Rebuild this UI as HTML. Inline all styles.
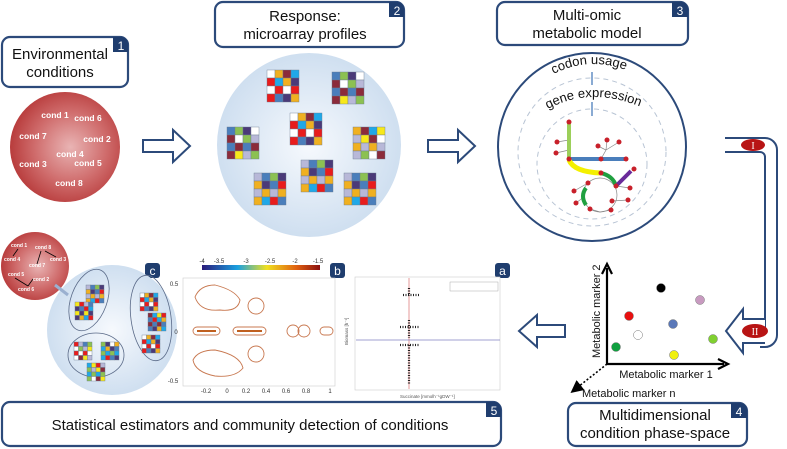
<!DOCTYPE html>
<html><head><meta charset="utf-8"><style>
body{margin:0;background:#fff}
svg{display:block;font-family:"Liberation Sans",sans-serif}
</style></head><body>
<svg id="s" width="787" height="449" viewBox="0 0 787 449" xmlns="http://www.w3.org/2000/svg">
<defs>
<radialGradient id="rg" cx="0.55" cy="0.5" r="0.55"><stop offset="0" stop-color="#e9b4b4"/><stop offset="0.6" stop-color="#cf6b6b"/><stop offset="1" stop-color="#b83c3c"/></radialGradient>
<radialGradient id="bg" cx="0.5" cy="0.5" r="0.5"><stop offset="0" stop-color="#f6f9fd"/><stop offset="1" stop-color="#cfdff0"/></radialGradient>
<linearGradient id="cb" x1="0" x2="1"><stop offset="0" stop-color="#2a1a7a"/><stop offset="0.3" stop-color="#1aa0e0"/><stop offset="0.55" stop-color="#f0e020"/><stop offset="0.8" stop-color="#e06010"/><stop offset="1" stop-color="#8a1010"/></linearGradient>
<marker id="ah" markerWidth="8" markerHeight="8" refX="6" refY="4" orient="auto"><path d="M0,0 L8,4 L0,8 z" fill="#000"/></marker>
</defs>
<g fill="none" stroke="#2c4a7a" stroke-width="2.2">
<rect x="2" y="37" width="126" height="50" rx="8" fill="#fff"/>
<rect x="215" y="2" width="189" height="45" rx="8" fill="#fff"/>
<rect x="497" y="2" width="191" height="43" rx="8" fill="#fff"/>
<rect x="2" y="402" width="499" height="44" rx="8" fill="#fff"/>
<rect x="568" y="403" width="179" height="43" rx="8" fill="#fff"/>
</g>
<g fill="#1f3d6e">
<path d="M113,37 h8 a7,7 0 0 1 7,7 v8 h-15 z"/>
<path d="M389,2 h8 a7,7 0 0 1 7,7 v8 h-15 z"/>
<path d="M672,2 h9 a7,7 0 0 1 7,7 v8 h-16 z"/>
<path d="M486,402 h8 a7,7 0 0 1 7,7 v8 h-15 z"/>
<path d="M731,403 h9 a7,7 0 0 1 7,7 v8 h-16 z"/>
<rect x="145" y="263" width="15" height="15" rx="3"/>
<rect x="330" y="263" width="15" height="15" rx="3"/>
<rect x="495" y="263" width="15" height="15" rx="3"/>
</g>
<g fill="#fff" font-size="12" text-anchor="middle">
<text x="121" y="50">1</text><text x="397" y="15">2</text><text x="680" y="15">3</text>
<text x="494" y="415">5</text><text x="739" y="416">4</text>
<text x="152.5" y="275">c</text><text x="337.5" y="275">b</text><text x="502.5" y="275">a</text>
</g>
<g font-size="15" text-anchor="middle" fill="#111">
<text x="60" y="59">Environmental</text><text x="60" y="77">conditions</text>
<text x="305" y="21">Response:</text><text x="305" y="39">microarray profiles</text>
<text x="587" y="20">Multi-omic</text><text x="587" y="38">metabolic model</text>
<text x="250" y="430">Statistical estimators and community detection of conditions</text>
<text x="655" y="420">Multidimensional</text><text x="655" y="438">condition phase-space</text>
</g>
<circle cx="65" cy="147" r="55" fill="url(#rg)"/>
<g fill="#fff" font-size="8.5" font-weight="bold" text-anchor="middle">
<text x="55" y="118">cond 1</text><text x="88" y="121">cond 6</text><text x="33" y="139">cond 7</text><text x="97" y="142">cond 2</text>
<text x="70" y="157">cond 4</text><text x="33" y="167">cond 3</text><text x="88" y="166">cond 5</text><text x="69" y="186">cond 8</text>
</g>
<g fill="#fff" stroke="#2c4a7a" stroke-width="2">
<path d="M143,140 h30 v-10 l17,16 l-17,16 v-10 h-30 z"/>
<path d="M428,140 h30 v-10 l17,16 l-17,16 v-10 h-30 z"/>
<path d="M565,325 h-28 v-10 l-18,16 l18,16 v-10 h28 z"/>
</g>
<circle cx="309" cy="145" r="92" fill="url(#bg)"/>
<circle cx="592" cy="147" r="94" fill="#fff" stroke="#2c4a7a" stroke-width="2"/>
<circle cx="592" cy="152" r="74" fill="none" stroke="#b8c4d4" stroke-dasharray="5,4"/>
<circle cx="592" cy="164" r="55" fill="none" stroke="#b8c4d4" stroke-dasharray="5,4"/>
<path id="p1" d="M550,76 Q592,52 640,76" fill="none"/>
<path id="p2" d="M546,110 Q592,84 648,110" fill="none"/>
<text font-size="13" fill="#111"><textPath href="#p1" startOffset="4">codon usage</textPath></text>
<text font-size="13" fill="#111"><textPath href="#p2" startOffset="2">gene expression</textPath></text>
<g stroke="#4a7ebb" stroke-width="1.3"><line x1="592" y1="72" x2="592" y2="85"/><line x1="592" y1="102" x2="592" y2="116"/></g>
<g stroke="#888" stroke-width="0.7" fill="none">
<circle cx="600" cy="195" r="17"/>
<line x1="557" y1="142" x2="569" y2="140"/><line x1="556" y1="153" x2="569" y2="150"/>
<path d="M601,159 L606,150 L598,146 M606,150 L607,140 M606,150 L619,142"/>
<path d="M588,183 L574,191 M585,196 L576,203 M600,212 L590,209 M600,212 L611,210 M612,201 L628,200 M616,186 L630,188"/>
</g>
<path d="M569,122 V158" stroke="#9ccf5a" stroke-width="4"/>
<path d="M571,159 H626" stroke="#4a7ebb" stroke-width="4"/>
<path d="M569,160 Q574,172 601,173" stroke="#f4f000" stroke-width="5" fill="none"/>
<path d="M601,173 Q613,176 616,186" stroke="#20a040" stroke-width="4" fill="none"/>
<path d="M586,188 Q580,196 586,205" stroke="#20a040" stroke-width="4" fill="none"/>
<path d="M616,186 L631,171" stroke="#6a2a9a" stroke-width="4"/>
<g fill="#c8202a">
<circle cx="569" cy="122" r="2.5"/><circle cx="569" cy="159" r="2.5"/><circle cx="601" cy="159" r="2.5"/><circle cx="626" cy="159" r="2.5"/>
<circle cx="557" cy="142" r="2.5"/><circle cx="556" cy="153" r="2.5"/><circle cx="598" cy="146" r="2.5"/><circle cx="607" cy="140" r="2.5"/><circle cx="619" cy="142" r="2.5"/>
<circle cx="601" cy="173" r="2.5"/><circle cx="616" cy="186" r="2.5"/><circle cx="634" cy="169" r="2.5"/>
<circle cx="588" cy="183" r="2.5"/><circle cx="574" cy="191" r="2.5"/><circle cx="576" cy="203" r="2.5"/><circle cx="590" cy="209" r="2.5"/>
<circle cx="612" cy="201" r="2.5"/><circle cx="611" cy="210" r="2.5"/><circle cx="630" cy="188" r="2.5"/><circle cx="628" cy="200" r="2.5"/>
</g>
<path d="M725,138 H765 a12,12 0 0 1 12,12 V335 a12,12 0 0 1 -12,12 H760 M725,152 H760 a5,5 0 0 1 5,5 V332" fill="none" stroke="#2c4a7a" stroke-width="2"/>
<path d="M765,319 H743 v-10 l-17,22 l17,22 v-10 h22" fill="#fff" stroke="#2c4a7a" stroke-width="2"/>
<ellipse cx="753" cy="145" rx="12" ry="6" fill="#b81414"/><text x="753" y="149" fill="#fff" font-size="10" text-anchor="middle" font-family="Liberation Serif">I</text>
<ellipse cx="755" cy="331" rx="13" ry="7" fill="#b81414"/><text x="755" y="335" fill="#fff" font-size="10" text-anchor="middle" font-family="Liberation Serif">II</text>
<g stroke="#000" stroke-width="2.2" fill="none">
<path d="M607,364 V268 M602,274 L607,264 L612,274"/><path d="M607,364 H724 M718,359 L728,364 L718,369"/>
</g>
<line x1="607" y1="364" x2="573" y2="391" stroke="#000" stroke-width="1.6" stroke-dasharray="2,2" marker-end="url(#ah)"/>
<text x="666" y="378" font-size="11" text-anchor="middle" fill="#111">Metabolic marker 1</text>
<text x="582" y="397" font-size="11" fill="#111">Metabolic marker n</text>
<text transform="translate(600,358) rotate(-90)" font-size="11" fill="#111">Metabolic marker 2</text>
<g stroke="#777" stroke-width="0.5">
<circle cx="661" cy="288" r="4.5" fill="#000"/><circle cx="700" cy="300" r="4.5" fill="#c89ac0"/><circle cx="629" cy="316" r="4.5" fill="#e81010"/>
<circle cx="673" cy="324" r="4.5" fill="#5a78b8"/><circle cx="638" cy="335" r="4.5" fill="#fff"/><circle cx="616" cy="347" r="4.5" fill="#10a040"/>
<circle cx="674" cy="355" r="4.5" fill="#f0f010"/><circle cx="713" cy="339" r="4.5" fill="#80d030"/>
</g>
<circle cx="112" cy="330" r="65" fill="url(#bg)"/>
<g fill="none" stroke="#5a6a88" stroke-width="0.8">
<ellipse cx="89" cy="300" rx="18" ry="32" transform="rotate(20 89 300)"/>
<ellipse cx="96" cy="355" rx="28" ry="22"/>
<ellipse cx="151" cy="318" rx="20" ry="43" transform="rotate(-8 151 318)"/>
</g>
<circle cx="35" cy="266" r="34" fill="url(#rg)"/>
<g fill="#fff" font-size="5" font-weight="bold">
<text x="11" y="247">cond 1</text><text x="35" y="249">cond 8</text><text x="4" y="261">cond 4</text><text x="29" y="267">cond 7</text>
<text x="50" y="261">cond 3</text><text x="8" y="276">cond 5</text><text x="33" y="281">cond 2</text><text x="18" y="291">cond 6</text>
</g>
<g stroke="#000" stroke-width="0.8"><line x1="13" y1="256" x2="18" y2="249"/><line x1="37" y1="264" x2="41" y2="251"/><line x1="45" y1="251" x2="56" y2="257"/><line x1="15" y1="278" x2="28" y2="286"/><line x1="28" y1="286" x2="33" y2="279"/></g>
<line x1="55" y1="285" x2="68" y2="295" stroke="#9ab0d0" stroke-width="3"/>
<rect x="183" y="278" width="152" height="108" fill="#fff" stroke="#ccc" stroke-width="0.6"/>
<rect x="202" y="265" width="118" height="5" fill="url(#cb)"/>
<g font-size="6" fill="#333" text-anchor="middle"><text x="202" y="263">-4</text><text x="219" y="263">-3.5</text><text x="246" y="263">-3</text><text x="270" y="263">-2.5</text><text x="295" y="263">-2</text><text x="318" y="263">-1.5</text>
<text x="206" y="393">-0.2</text><text x="227" y="393">0</text><text x="246" y="393">0.2</text><text x="266" y="393">0.4</text><text x="286" y="393">0.6</text><text x="306" y="393">0.8</text><text x="330" y="393">1</text>
<text x="174" y="286">0.5</text><text x="176" y="334">0</text><text x="173" y="383">-0.5</text></g>
<g fill="none" stroke="#c87850" stroke-width="0.9">
<path d="M195,297 Q200,285 215,285 Q235,290 240,300 Q238,312 220,310 Q200,312 195,297z"/>
<path d="M193,360 Q198,350 215,350 Q240,355 243,368 Q235,378 215,376 Q195,372 193,360z"/>
<rect x="193" y="327" width="27" height="8" rx="4"/><rect x="233" y="327" width="33" height="8" rx="4"/>
<circle cx="256" cy="306" r="8"/><circle cx="256" cy="354" r="8"/><circle cx="293" cy="331" r="6"/><circle cx="304" cy="331" r="6"/><rect x="320" y="327" width="13" height="8" rx="4"/>
</g>
<g stroke="#c06020" stroke-width="2"><line x1="197" y1="331" x2="216" y2="331"/><line x1="237" y1="331" x2="262" y2="331"/></g>
<rect x="355" y="277" width="145" height="113" fill="#fff" stroke="#ccc" stroke-width="0.6"/>
<line x1="409" y1="278" x2="409" y2="389" stroke="#e08080" stroke-width="0.8"/>
<line x1="356" y1="340" x2="500" y2="340" stroke="#8080c0" stroke-width="0.8"/>
<rect x="450" y="282" width="48" height="9" fill="#fff" stroke="#999" stroke-width="0.4"/>
<g stroke="#222" stroke-width="2.2" stroke-dasharray="1,1.5"><line x1="409" y1="288" x2="409" y2="296"/><line x1="409" y1="320" x2="409" y2="338"/><line x1="409" y1="345" x2="409" y2="385"/><line x1="400" y1="327" x2="420" y2="327"/><line x1="400" y1="345" x2="420" y2="345"/><line x1="403" y1="295" x2="420" y2="295"/></g>
<g font-size="4.5" fill="#555"><text x="400" y="398">Succinate [mmolh⁻¹gDW⁻¹]</text><text transform="translate(348,345) rotate(-90)">Biomass [h⁻¹]</text></g>
<g id="grids"></g>
</svg>
<script>
var C=["#4a7ebb","#f7e81a","#f0b020","#8cc152","#e81c1c","#8b2b3a","#4b3a78","#b8b8d8","#20a8e8","#fff"];
function g(x,y,c){var s="",k=0;for(var i=0;i<4;i++)for(var j=0;j<4;j++){k=(x*7+y*13+i*5+j*3+i*j)%C.length;s+='<rect x="'+(x+j*c)+'" y="'+(y+i*c)+'" width="'+c+'" height="'+c+'" fill="'+C[k]+'" stroke="#6a7a90" stroke-width="0.4"/>';}return s;}
var h="";[[267,70],[332,72],[290,113],[227,127],[353,127],[301,160],[254,173],[344,173]].forEach(function(p){h+=g(p[0],p[1],8);});
[[86,285],[75,302],[140,293],[148,313],[142,335],[74,342],[101,342],[87,363]].forEach(function(p){h+=g(p[0],p[1],4.5);});
document.getElementById("grids").innerHTML=h;
</script>
</body></html>
